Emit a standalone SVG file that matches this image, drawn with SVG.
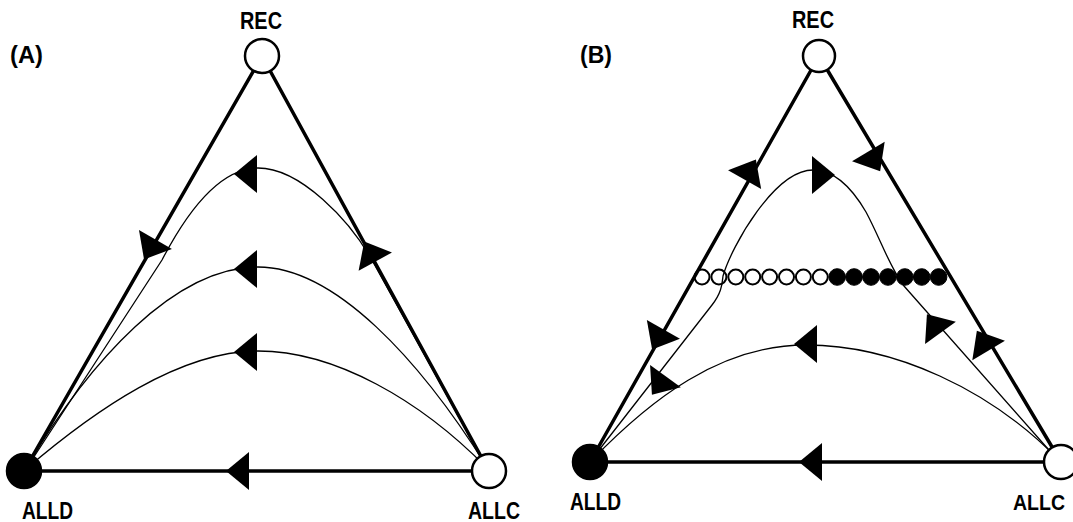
<svg xmlns="http://www.w3.org/2000/svg" xmlns:xlink="http://www.w3.org/1999/xlink" width="1073" height="522" viewBox="0 0 1073 522">
<style>
.edge{stroke:#000;stroke-width:3.5;fill:none;stroke-linecap:round}
.traj{stroke:#000;stroke-width:1.3;fill:none}
.node{stroke:#000;stroke-width:2.5}
.open{fill:#fff}
.full{fill:#000}
.dotopen{fill:none;stroke:#000;stroke-width:2}
.dotfull{fill:#000;stroke:#000;stroke-width:1}
.lbl{font-family:"Liberation Sans",Arial,sans-serif;font-size:24px;font-weight:bold;fill:#000}
</style>
<defs>
<polygon id="ah" points="12,0 -11,-19 -11,19" fill="#000"/>
</defs>
<rect width="1073" height="522" fill="#fff"/>

<!-- Panel A -->
<g id="connectors-A">
<line class="edge" x1="262" y1="56" x2="24" y2="471"/>
<line class="edge" x1="262" y1="56" x2="489" y2="471"/>
<line class="edge" x1="24" y1="471" x2="489" y2="471"/>
<path class="traj" d="M486,466 L373,262 C350,220 300,168 258,168 C220,168 188,210 162,260 L28,466"/>
<path class="traj" d="M487,467 C420,360 335,267 258,267 C175,267 90,360 26,468"/>
<path class="traj" d="M487,468 C420,400 335,351 258,351 C180,351 95,410 26,469"/>
<use xlink:href="#ah" href="#ah" transform="translate(238,471) rotate(180)"/>
<use xlink:href="#ah" href="#ah" transform="translate(150,249) rotate(119.8)"/>
<use xlink:href="#ah" href="#ah" transform="translate(370,252) rotate(-118.7)"/>
<use xlink:href="#ah" href="#ah" transform="translate(246,174) rotate(180)"/>
<use xlink:href="#ah" href="#ah" transform="translate(246,269) rotate(180)"/>
<use xlink:href="#ah" href="#ah" transform="translate(246,352) rotate(180)"/>
</g>
<g id="node-A-REC"><circle class="node open" cx="262" cy="56" r="17"/><text class="lbl" x="240" y="29" textLength="42" lengthAdjust="spacingAndGlyphs">REC</text></g>
<g id="node-A-ALLD"><circle class="node full" cx="24" cy="471" r="17"/><text class="lbl" x="22" y="519" textLength="51" lengthAdjust="spacingAndGlyphs">ALLD</text></g>
<g id="node-A-ALLC"><circle class="node open" cx="489" cy="471" r="17"/><text class="lbl" x="468" y="519" textLength="52" lengthAdjust="spacingAndGlyphs">ALLC</text></g>
<text id="label-A" class="lbl" x="10" y="63" textLength="33" lengthAdjust="spacingAndGlyphs">(A)</text>

<!-- Panel B -->
<g id="connectors-B">
<line class="edge" x1="819" y1="56" x2="590" y2="462"/>
<line class="edge" x1="819" y1="56" x2="1061" y2="462"/>
<line class="edge" x1="590" y1="462" x2="1061" y2="462"/>
<path class="traj" d="M1057,458 C990,390 895,345 806,345 C720,345 650,400 592,460"/>
<path class="traj" d="M592,459 L712,305 C722,292 722,284 723,276 C732,245 775,170 813,170 C835,170 852,188 866,212 C880,238 890,268 904,286 L1056,458"/>
<use xlink:href="#ah" href="#ah" transform="translate(811,462) rotate(180)"/>
<use xlink:href="#ah" href="#ah" transform="translate(806,344) rotate(180)"/>
<use xlink:href="#ah" href="#ah" transform="translate(823,175)"/>
<use xlink:href="#ah" href="#ah" transform="translate(750,170) rotate(-60.6)"/>
<use xlink:href="#ah" href="#ah" transform="translate(874,161) rotate(59.2)"/>
<use xlink:href="#ah" href="#ah" transform="translate(658,339) rotate(119.4)"/>
<use xlink:href="#ah" href="#ah" transform="translate(983,341) rotate(-120.8)"/>
<use xlink:href="#ah" href="#ah" transform="translate(659,385) rotate(126)"/>
<use xlink:href="#ah" href="#ah" transform="translate(934,324) rotate(-126)"/>
</g>
<g id="fixed-line">
<circle class="dotopen" cx="702" cy="277" r="7.5"/>
<circle class="dotopen" cx="718.9" cy="277" r="7.5"/>
<circle class="dotopen" cx="735.8" cy="277" r="7.5"/>
<circle class="dotopen" cx="752.7" cy="277" r="7.5"/>
<circle class="dotopen" cx="769.6" cy="277" r="7.5"/>
<circle class="dotopen" cx="786.5" cy="277" r="7.5"/>
<circle class="dotopen" cx="803.4" cy="277" r="7.5"/>
<circle class="dotopen" cx="820.3" cy="277" r="7.5"/>
<circle class="dotfull" cx="837.2" cy="277" r="8.3"/>
<circle class="dotfull" cx="854.1" cy="277" r="8.3"/>
<circle class="dotfull" cx="871" cy="277" r="8.3"/>
<circle class="dotfull" cx="887.9" cy="277" r="8.3"/>
<circle class="dotfull" cx="904.8" cy="277" r="8.3"/>
<circle class="dotfull" cx="921.7" cy="277" r="8.3"/>
<circle class="dotfull" cx="938.6" cy="277" r="8.3"/>
</g>
<g id="node-B-REC"><circle class="node open" cx="819" cy="56" r="16"/><text class="lbl" x="792" y="28" textLength="42" lengthAdjust="spacingAndGlyphs">REC</text></g>
<g id="node-B-ALLD"><circle class="node full" cx="590" cy="462" r="17"/><text class="lbl" x="570" y="510" textLength="51" lengthAdjust="spacingAndGlyphs">ALLD</text></g>
<g id="node-B-ALLC"><circle class="node open" cx="1061" cy="462" r="17"/><text class="lbl" x="1013" y="510" style="font-size:22px" textLength="52" lengthAdjust="spacingAndGlyphs">ALLC</text></g>
<text id="label-B" class="lbl" x="580" y="63" textLength="32" lengthAdjust="spacingAndGlyphs">(B)</text>
</svg>
